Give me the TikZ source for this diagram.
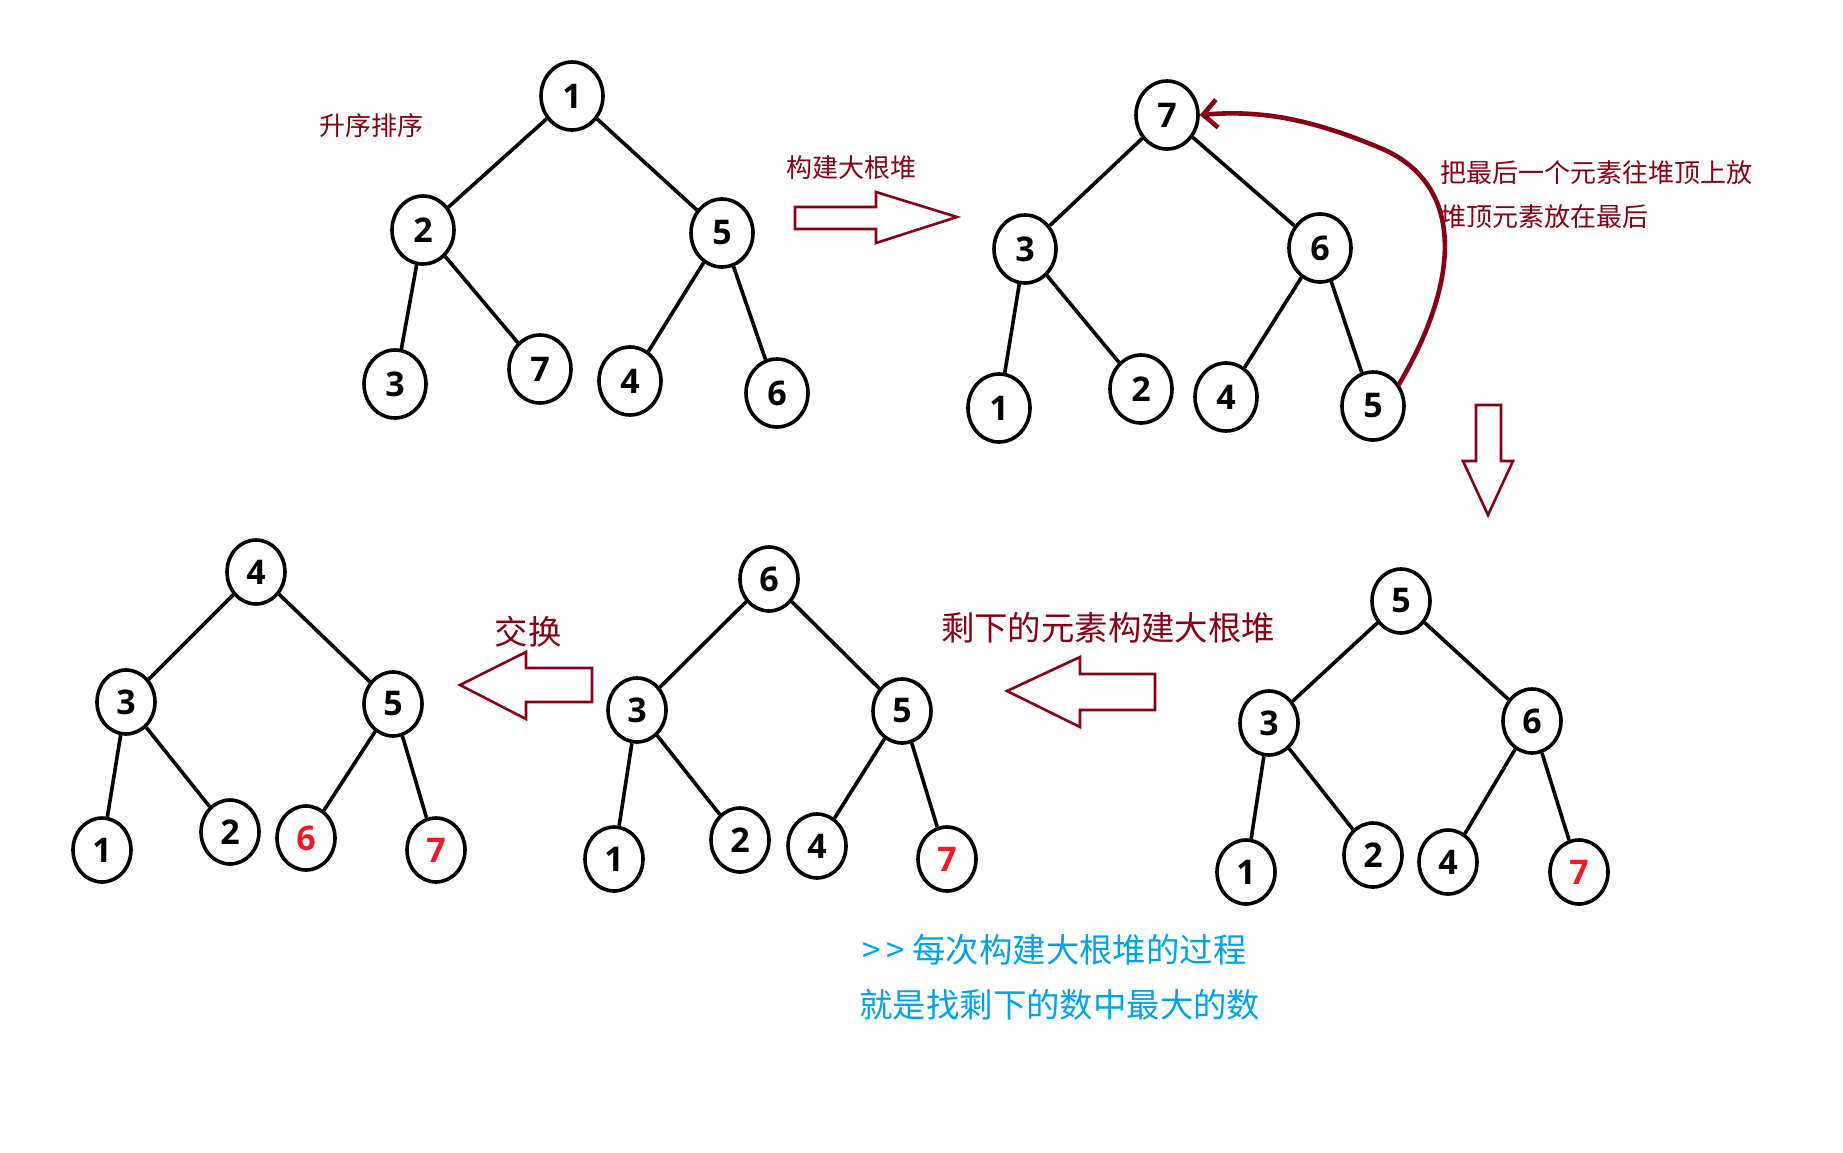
\documentclass[tikz,border=0pt]{standalone}
\usepackage{fontspec}
\setmainfont{Open Sans}
\newfontfamily\cjk{Noto Sans CJK SC}
\usetikzlibrary{shapes.geometric,arrows.meta}
\definecolor{maroon}{RGB}{136,0,21}
\definecolor{pred}{RGB}{237,28,36}
\definecolor{pblue}{RGB}{0,162,232}
\begin{document}
\begin{tikzpicture}[x=0.5pt,y=-0.5pt,
 hn/.style={ellipse,draw=black,line width=1.8pt,minimum width=31pt,minimum height=34pt,inner sep=0pt,font=\fontsize{17}{17}\selectfont\bfseries},
 hs/.style={hn,minimum width=29pt,minimum height=32pt},
 ed/.style={line width=1.8pt},
 rd/.style={text=pred},
 lbl/.style={text=maroon,font=\cjk\fontsize{13}{13}\selectfont,inner sep=0pt},
 big/.style={text=maroon,font=\cjk\fontsize{16.7}{17}\selectfont,inner sep=0pt},
 note/.style={text=pblue,font=\cjk\fontsize{16.7}{17}\selectfont,inner sep=0pt,anchor=west},
 blk/.style={draw=maroon,line width=1.3pt,line join=miter},
]
\useasboundingbox[fill=white] (0,0) rectangle (1843,1152);

% Tree 1
\node[hn] (a1) at (572,96) {1};
\node[hn] (a2) at (423,230) {2};
\node[hn] (a5) at (722,233) {5};
\node[hn] (a3) at (395,384) {3};
\node[hn] (a7) at (540,369) {7};
\node[hn] (a4) at (630,381) {4};
\node[hn] (a6) at (777,393) {6};
\draw[ed] (a1) -- (a2); \draw[ed] (a1) -- (a5);
\draw[ed] (a2) -- (a3); \draw[ed] (a2) -- (a7);
\draw[ed] (a5) -- (a4); \draw[ed] (a5) -- (a6);

% Tree 2
\node[hn] (b7) at (1167,115) {7};
\node[hn] (b3) at (1025,249) {3};
\node[hn] (b6) at (1320,248) {6};
\node[hn] (b1) at (999,408) {1};
\node[hn] (b2) at (1141,389) {2};
\node[hn] (b4) at (1226,397) {4};
\node[hn] (b5) at (1373,406) {5};
\draw[ed] (b7) -- (b3); \draw[ed] (b7) -- (b6);
\draw[ed] (b3) -- (b1); \draw[ed] (b3) -- (b2);
\draw[ed] (b6) -- (b4); \draw[ed] (b6) -- (b5);

% Tree 3 (bottom right)
\node[hs] (c5) at (1401,601) {5};
\node[hs] (c3) at (1269,723) {3};
\node[hs] (c6) at (1532,721) {6};
\node[hs] (c1) at (1246,872) {1};
\node[hs] (c2) at (1373,855) {2};
\node[hs] (c4) at (1448,862) {4};
\node[hs,rd] (c7) at (1579,872) {7};
\draw[ed] (c5) -- (c3); \draw[ed] (c5) -- (c6);
\draw[ed] (c3) -- (c1); \draw[ed] (c3) -- (c2);
\draw[ed] (c6) -- (c4); \draw[ed] (c6) -- (c7);

% Tree 4 (bottom middle)
\node[hs] (d6) at (769,579) {6};
\node[hs] (d3) at (637,710) {3};
\node[hs] (d5) at (902,711) {5};
\node[hs] (d1) at (614,859) {1};
\node[hs] (d2) at (740,840) {2};
\node[hs] (d4) at (817,846) {4};
\node[hs,rd] (d7) at (947,859) {7};
\draw[ed] (d6) -- (d3); \draw[ed] (d6) -- (d5);
\draw[ed] (d3) -- (d1); \draw[ed] (d3) -- (d2);
\draw[ed] (d5) -- (d4); \draw[ed] (d5) -- (d7);

% Tree 5 (bottom left)
\node[hs] (e4) at (256,572) {4};
\node[hs] (e3) at (126,702) {3};
\node[hs] (e5) at (393,704) {5};
\node[hs] (e1) at (102,850) {1};
\node[hs] (e2) at (230,832) {2};
\node[hs,rd] (e6) at (306,838) {6};
\node[hs,rd] (e7) at (436,850) {7};
\draw[ed] (e4) -- (e3); \draw[ed] (e4) -- (e5);
\draw[ed] (e3) -- (e1); \draw[ed] (e3) -- (e2);
\draw[ed] (e5) -- (e6); \draw[ed] (e5) -- (e7);

% Labels
\node[lbl] (t1) at (371,126) {升序排序};
\node[lbl] (t2) at (851,168) {构建大根堆};
\node[lbl,anchor=west] (t3) at (1440,173) {把最后一个元素往堆顶上放};
\node[lbl,anchor=west] (t4) at (1440,217) {堆顶元素放在最后};
\node[big] (t5) at (1108,628) {剩下的元素构建大根堆};
\node[big] (t6) at (528,632) {交换};
\node[note] (t7) at (862,950) {>\,>\ 每次构建大根堆的过程};
\node[note] (t8) at (859,1005) {就是找剩下的数中最大的数};

% Block arrows
\draw[blk] (795,207) -- (876,207) -- (876,192) -- (957,217) -- (876,243) -- (876,229) -- (795,229) -- cycle;
\draw[blk] (1476,405) -- (1501,405) -- (1501,461) -- (1513,461) -- (1488,515) -- (1463,461) -- (1476,461) -- cycle;
\draw[blk] (1155,674) -- (1080,674) -- (1080,657) -- (1007,691) -- (1080,727) -- (1080,710) -- (1155,710) -- cycle;
\draw[blk] (592,668) -- (526,668) -- (526,652) -- (460,685) -- (526,719) -- (526,702) -- (592,702) -- cycle;

% Curved arrow
\draw[draw=maroon,line width=2.3pt,line cap=round,-{Straight Barb[length=7pt,width=14pt,line width=2.3pt]}]
  (b5.40) .. controls (1455,290) and (1470,190) .. (1385,150)
  .. controls (1310,118) and (1260,110) .. (b7.east);
\end{tikzpicture}
\end{document}
